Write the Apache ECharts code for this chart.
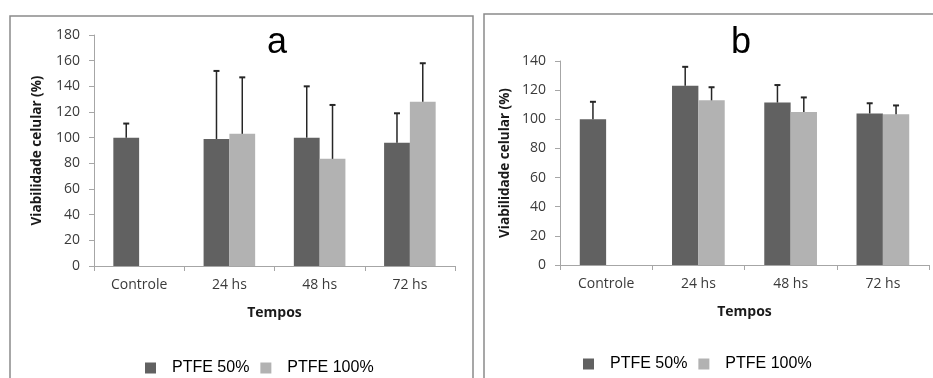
<!DOCTYPE html>
<html>
<head>
<meta charset="utf-8">
<script src="https://cdn.jsdelivr.net/npm/echarts@6/dist/echarts.min.js"></script>
<style>
html,body{margin:0;padding:0;background:#fff;}
#chart{width:933px;height:378px;}
</style>
</head>
<body>
<div id="chart"></div>
<script>
var categories = ['Controle', '24 hs', '48 hs', '72 hs'];
var seriesNames = ['PTFE 50%', 'PTFE 100%'];

// Panel a
var a50 = [100, 99, 100, 96];
var a50err = [11, 53, 40, 23];
var a100 = [null, 103, 83.5, 128];
var a100err = [null, 44, 42, 30];
var aYMax = 180;

// Panel b
var b50 = [100, 123, 111.5, 104];
var b50err = [12, 13, 12, 7];
var b100 = [null, 113, 105, 103.5];
var b100err = [null, 9, 10, 6];
var bYMax = 140;

var yInterval = 20;
var panelLabels = ['a', 'b'];
var yTitle = 'Viabilidade celular (%)';
var xTitle = 'Tempos';

var DARK = '#616161';
var LIGHT = '#b2b2b2';
var AXIS = '#a6a6a6';
var LABEL_FONT = '"Open Sans", sans-serif';

function errData(vals, errs) {
  var out = [];
  for (var i = 0; i < vals.length; i++) {
    if (vals[i] != null && errs[i] != null) out.push([i, vals[i], errs[i]]);
  }
  return out;
}

function errRender(sign) {
  return function (params, api) {
    var xi = api.value(0), v = api.value(1), e = api.value(2);
    var bandW = api.size([1, 0])[0];
    var bw = bandW / 3.5;
    var base = api.coord([xi, v]);
    var top = api.coord([xi, v + e]);
    var x = base[0] + sign * bw / 2;
    var cap = 3;
    var st = { stroke: '#262626', lineWidth: 1.5 };
    return {
      type: 'group',
      children: [
        { type: 'line', shape: { x1: x, y1: base[1], x2: x, y2: top[1] }, style: st },
        { type: 'line', shape: { x1: x - cap, y1: top[1], x2: x + cap, y2: top[1] }, style: { stroke: '#262626', lineWidth: 2 } }
      ]
    };
  };
}

function xAxisCfg(gi) {
  return {
    type: 'category', gridIndex: gi, data: categories,
    boundaryGap: true,
    axisLine: { lineStyle: { color: AXIS, width: 1 } },
    axisTick: { show: true, length: 5, lineStyle: { color: AXIS } },
    axisLabel: { color: '#3a3a3a', fontFamily: LABEL_FONT, fontSize: 14, margin: 12 },
    name: xTitle, nameLocation: 'middle', nameGap: 40,
    nameTextStyle: { color: '#1a1a1a', fontFamily: LABEL_FONT, fontSize: 14, fontWeight: 'bold' }
  };
}
function yAxisCfg(gi, max, gap) {
  return {
    type: 'value', gridIndex: gi, min: 0, max: max, interval: yInterval,
    splitLine: { show: false },
    axisLine: { show: true, lineStyle: { color: AXIS, width: 1 } },
    axisTick: { show: true, length: 5, lineStyle: { color: AXIS } },
    axisLabel: { color: '#3a3a3a', fontFamily: LABEL_FONT, fontSize: 14, margin: 14 },
    name: yTitle, nameLocation: 'middle', nameGap: gap, nameRotate: 90,
    nameTextStyle: { color: '#1a1a1a', fontFamily: LABEL_FONT, fontSize: 13.5, fontWeight: 'bold' }
  };
}
function barSeries(name, data, color, gi) {
  return {
    type: 'bar', name: name, xAxisIndex: gi, yAxisIndex: gi, data: data,
    barGap: '0%', barCategoryGap: '42.857%',
    itemStyle: { color: color }, silent: true
  };
}
function errSeries(vals, errs, sign, gi) {
  return {
    type: 'custom', xAxisIndex: gi, yAxisIndex: gi, z: 5, silent: true,
    renderItem: errRender(sign), data: errData(vals, errs),
    encode: { x: 0, y: 1 }
  };
}

var chart = echarts.init(document.getElementById('chart'), null, { renderer: 'canvas' });
chart.setOption({
  animation: false,
  backgroundColor: '#ffffff',
  title: [
    { text: panelLabels[0], left: 272, top: 20, textAlign: 'center',
      textStyle: { fontFamily: '"Liberation Sans", Arial, sans-serif', fontSize: 36, fontWeight: 'normal', color: '#000' } },
    { text: panelLabels[1], left: 736, top: 20, textAlign: 'center',
      textStyle: { fontFamily: '"Liberation Sans", Arial, sans-serif', fontSize: 36, fontWeight: 'normal', color: '#000' } }
  ],
  graphic: [
    { type: 'rect', z: -10, shape: { x: 10, y: 16, width: 463, height: 380 },
      style: { fill: null, stroke: '#8a8a8a', lineWidth: 1.5 } },
    { type: 'rect', z: -10, shape: { x: 484, y: 14, width: 470, height: 380 },
      style: { fill: null, stroke: '#8a8a8a', lineWidth: 1.5 } }
  ],
  legend: [
    { data: seriesNames, left: 140, top: 355, icon: 'rect', itemWidth: 11, itemHeight: 11, itemGap: 11,
      selectedMode: false,
      textStyle: { fontFamily: '"Liberation Sans", Arial, sans-serif', fontSize: 16, color: '#000', padding: [0, 0, 0, 11] } },
    { data: seriesNames, left: 578, top: 351, icon: 'rect', itemWidth: 11, itemHeight: 11, itemGap: 11,
      selectedMode: false,
      textStyle: { fontFamily: '"Liberation Sans", Arial, sans-serif', fontSize: 16, color: '#000', padding: [0, 0, 0, 11] } }
  ],
  grid: [
    { left: 94, top: 35, width: 361, height: 231 },
    { left: 560, top: 61, width: 369, height: 204 }
  ],
  xAxis: [xAxisCfg(0), xAxisCfg(1)],
  yAxis: [yAxisCfg(0, aYMax, 50), yAxisCfg(1, bYMax, 48)],
  series: [
    barSeries(seriesNames[0], a50, DARK, 0),
    barSeries(seriesNames[1], a100, LIGHT, 0),
    errSeries(a50, a50err, -1, 0),
    errSeries(a100, a100err, 1, 0),
    barSeries(seriesNames[0], b50, DARK, 1),
    barSeries(seriesNames[1], b100, LIGHT, 1),
    errSeries(b50, b50err, -1, 1),
    errSeries(b100, b100err, 1, 1)
  ]
});
</script>
</body>
</html>
